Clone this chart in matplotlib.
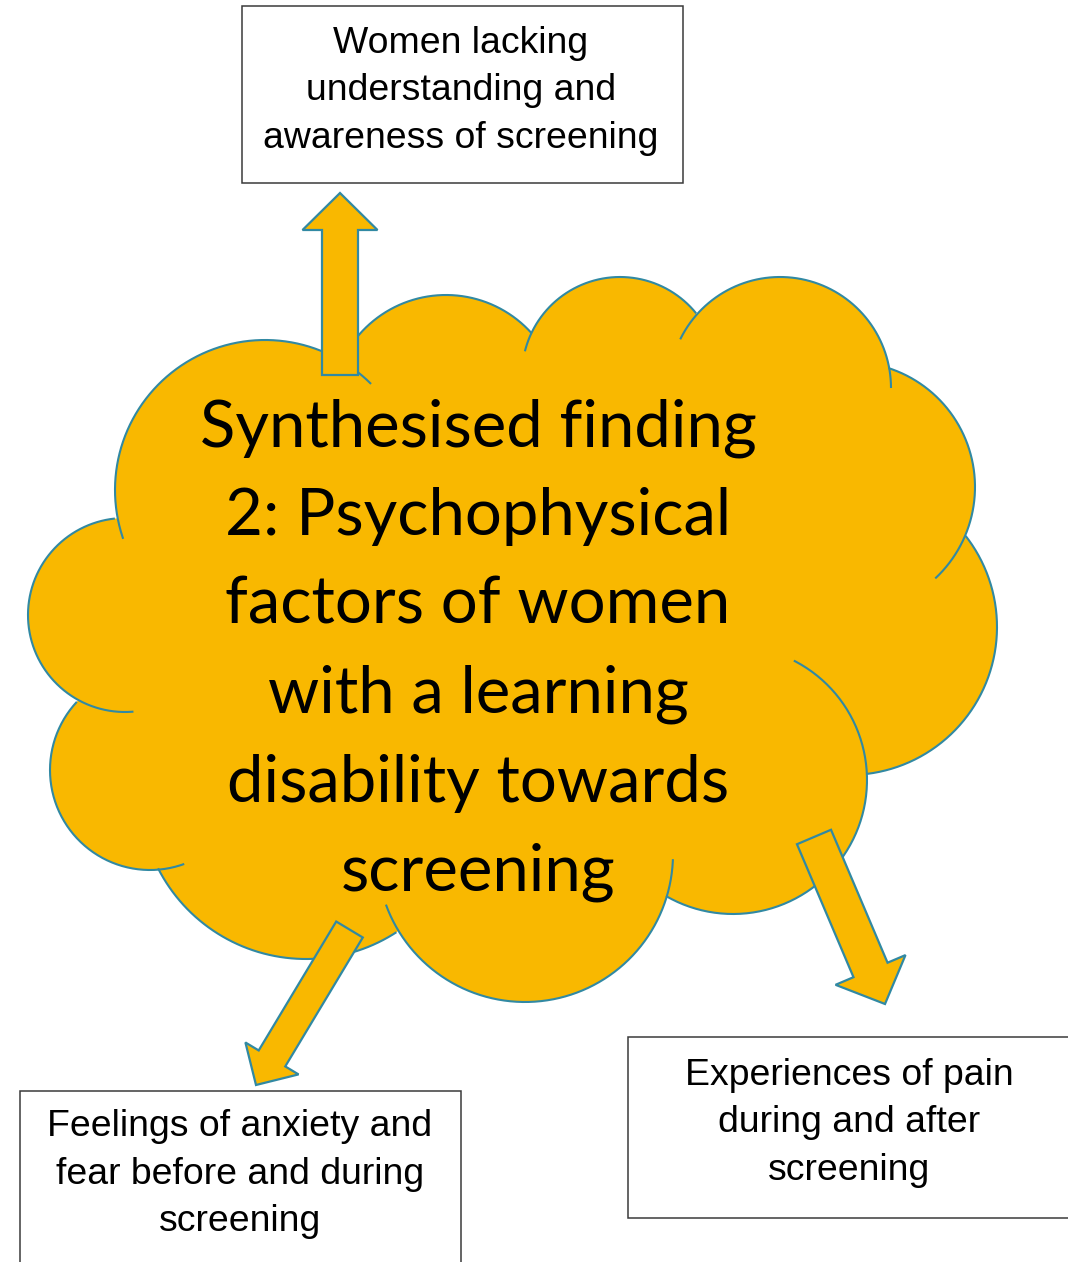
"""
Cloud diagram: synthesised finding 2 with three linked themes.
Drawn in pixel-like data units (y grows downwards) so the layout
lines up with a 1068x1262 canvas.
"""

import numpy as np
import matplotlib
matplotlib.use("Agg")
import matplotlib.pyplot as plt
from matplotlib.patches import Circle, Polygon, Rectangle, FancyArrow

# ── content ──
CENTRE_LINES = [
    "Synthesised finding",
    "2: Psychophysical",
    "factors of women",
    "with a learning",
    "disability towards",
    "screening",
]
THEMES = [
    ["Women lacking", "understanding and", "awareness of screening"],
    ["Feelings of anxiety and", "fear before and during", "screening"],
    ["Experiences of pain", "during and after", "screening"],
]

# ── cloud lobes: centre x, centre y, radius, outline arc start/end (deg) ──
LOBE_X = [265, 446, 620, 780, 850, 849, 733, 525, 306, 150, 125]
LOBE_Y = [490, 410, 375, 388, 487, 627, 780, 854, 793, 770, 615]
LOBE_R = [150, 115, 98, 111, 125, 148, 134, 148, 166, 100, 97]
ARC_T1 = [45, 42, 39, 0, -47, -83, -120, -160, -153, 137, 96]
ARC_T2 = [199, 141, 166, 154, 72, 38, 63, -2, -57, 290, 275]

# ── arrows: tail centre -> tip, shaft width, head width, head length ──
ARROW_TAIL = [(340, 375), (349.5, 929.5), (814, 837)]
ARROW_TIP = [(340, 193), (256, 1085), (885, 1004)]
ARROW_W = [36, 31, 37]
ARROW_HW = [75, 62, 76]
ARROW_HL = [37, 31, 37]

# ── theme boxes: left, top, width, height, text centre x, first baseline ──
BOX_LEFT = [242, 20, 628]
BOX_TOP = [6, 1091, 1037]
BOX_W = [441, 441, 500]
BOX_H = [177, 200, 181]
BOX_TEXT_X = [461, 240, 849]
BOX_BASE = [53, 1136, 1085]

GOLD = "#F9B800"
TEAL = "#3189A3"

fig = plt.figure(figsize=(10.68, 12.62), dpi=100)
ax = fig.add_axes([0, 0, 1, 1])
ax.set_xlim(0, 1068)
ax.set_ylim(1262, 0)
ax.axis("off")

# cloud fill: lobes plus the polygon through their centres
for cx, cy, r in zip(LOBE_X, LOBE_Y, LOBE_R):
    ax.add_patch(Circle((cx, cy), r, facecolor=GOLD, edgecolor="none", zorder=1))
ax.add_patch(Polygon(np.column_stack([LOBE_X, LOBE_Y]), closed=True,
                     facecolor=GOLD, edgecolor="none", zorder=1))

# cloud outline arcs (angles measured anticlockwise on screen)
for cx, cy, r, t1, t2 in zip(LOBE_X, LOBE_Y, LOBE_R, ARC_T1, ARC_T2):
    t = np.radians(np.linspace(t1, t2, 200))
    ax.plot(cx + r * np.cos(t), cy - r * np.sin(t), color=TEAL, lw=1.5,
            solid_capstyle="butt", zorder=2)

# arrows
for (x0, y0), (x1, y1), w, hw, hl in zip(ARROW_TAIL, ARROW_TIP, ARROW_W,
                                          ARROW_HW, ARROW_HL):
    ax.add_patch(FancyArrow(x0, y0, x1 - x0, y1 - y0, width=w, head_width=hw,
                            head_length=hl, length_includes_head=True,
                            facecolor=GOLD, edgecolor=TEAL, lw=1.6,
                            joinstyle="miter", zorder=3))

# centre text
for i, line in enumerate(CENTRE_LINES):
    ax.text(478, 446 + 89 * i, line, ha="center", va="baseline",
            fontsize=47, family="Lato", color="black", zorder=4)

# theme boxes
for lines, bl, bt, bw, bh, tx, tb in zip(THEMES, BOX_LEFT, BOX_TOP, BOX_W,
                                         BOX_H, BOX_TEXT_X, BOX_BASE):
    ax.add_patch(Rectangle((bl, bt), bw, bh, facecolor="white",
                           edgecolor="#3a3a3a", lw=1.1, zorder=2))
    for j, line in enumerate(lines):
        ax.text(tx, tb + 47.5 * j, line, ha="center", va="baseline",
                fontsize=26.9, family="Liberation Sans", color="black",
                zorder=4)

fig.savefig("out.png", dpi=100)
